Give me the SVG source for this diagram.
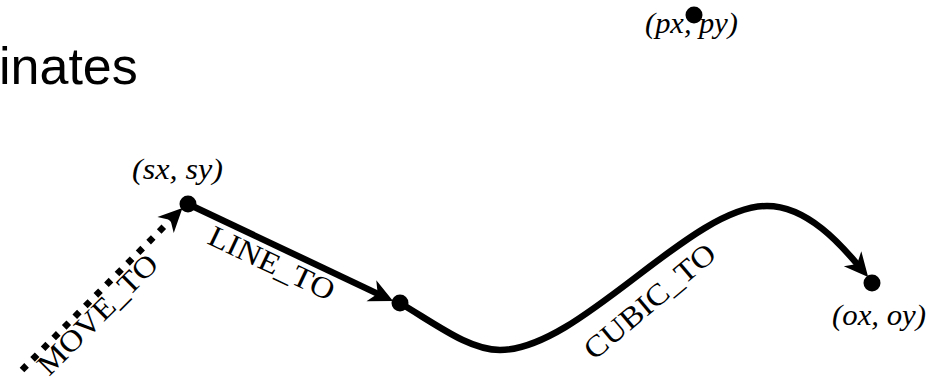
<svg xmlns="http://www.w3.org/2000/svg" width="942" height="383" viewBox="0 0 942 383">
  <style>
    .title { font-family: "Liberation Sans", Arial, sans-serif; font-size: 52px; fill: #000; }
    .coord { font-family: "Liberation Serif", "Times New Roman", serif; font-style: italic; font-size: 29px; fill: #000; }
    .seg { font-family: "Liberation Serif", "Times New Roman", serif; font-size: 30px; fill: #000; }
    .pt { fill: #000; }
    .edge { fill: none; stroke: #000; stroke-width: 6.5; marker-end: url(#arrow); }
    .dotted { stroke-width: 6.5; stroke-dasharray: 6.5 8.5; }
  </style>
  <defs>
    <!-- stealth-style head; reference point sits in the notch -->
    <marker id="arrow" viewBox="-26 -14 28 28" markerWidth="28" markerHeight="28"
            refX="-15" refY="0" orient="auto" markerUnits="userSpaceOnUse">
      <path d="M0,0 L-24,-11.5 L-17,0 L-24,11.5 Z" fill="#000"/>
    </marker>
  </defs>

  <rect width="942" height="383" fill="#fff"/>

  <text class="title" x="-1" y="84">inates</text>

  <!-- path segments -->
  <g id="connectors">
    <path id="move-to" class="edge dotted" d="M22,370 L171.9,218.6"/>
    <path id="line-to" class="edge" d="M188,204 L379.5,294.6"/>
    <path id="cubic-to" class="edge"
          d="M400,303 C440,327 470,350 500,350 C580,350 690,206 767,206 C810,206 846,251 858.4,265.5"/>
    <text class="seg" transform="translate(49,377) rotate(-45)" textLength="157" lengthAdjust="spacingAndGlyphs">MOVE_TO</text>
    <text class="seg" transform="translate(206,243) rotate(25.4)" textLength="136" lengthAdjust="spacingAndGlyphs">LINE_TO</text>
    <text class="seg" transform="translate(594,361) rotate(-40)" textLength="162" lengthAdjust="spacingAndGlyphs">CUBIC_TO</text>
  </g>

  <!-- points -->
  <g id="start">
    <circle class="pt" cx="188" cy="204" r="8.5"/>
    <text class="coord" x="132" y="179" textLength="91" lengthAdjust="spacingAndGlyphs">(sx, sy)</text>
  </g>
  <g id="mid">
    <circle class="pt" cx="400" cy="303" r="8.5"/>
  </g>
  <g id="end">
    <circle class="pt" cx="872" cy="283" r="8.5"/>
    <text class="coord" x="832" y="325" textLength="94" lengthAdjust="spacingAndGlyphs">(ox, oy)</text>
  </g>
  <g id="current">
    <circle class="pt" cx="694" cy="15" r="8.5"/>
    <text class="coord" x="645" y="33" textLength="93" lengthAdjust="spacingAndGlyphs">(px, py)</text>
  </g>
</svg>
